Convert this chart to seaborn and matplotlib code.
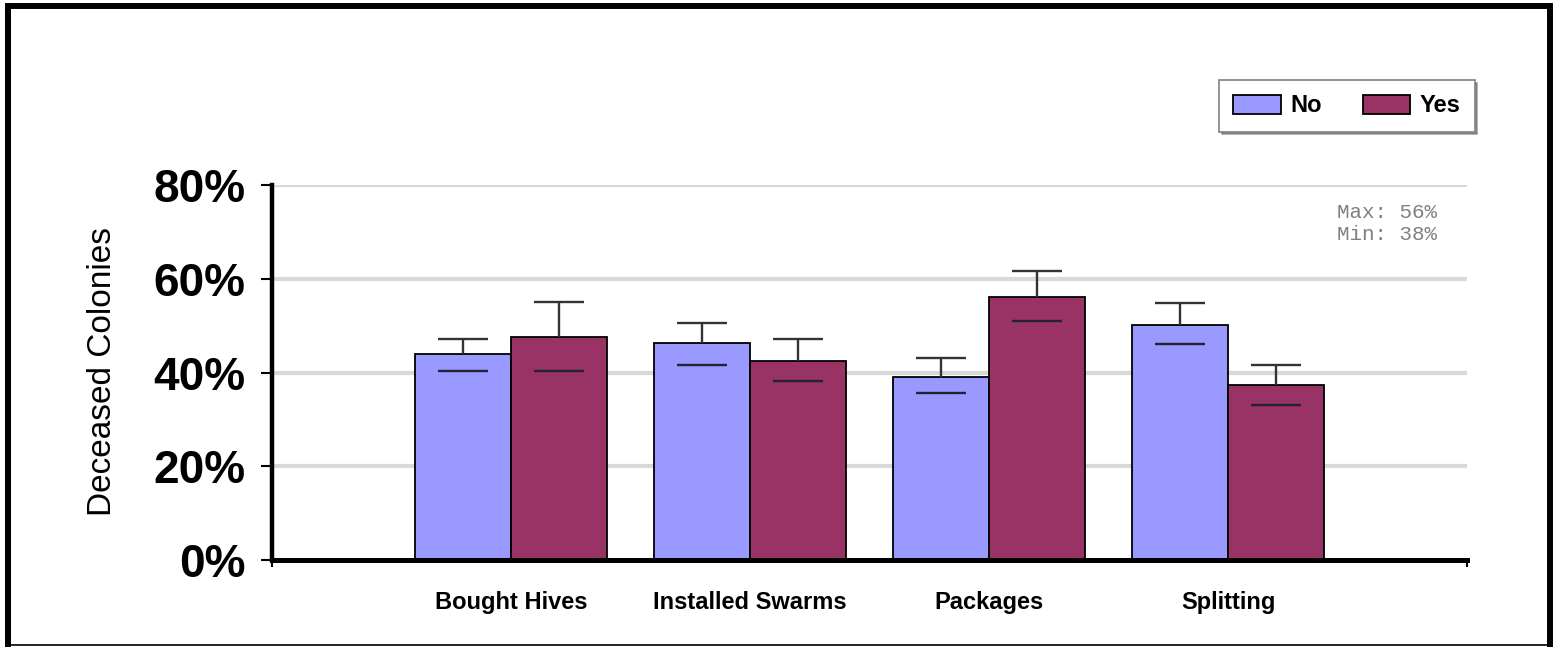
import matplotlib
matplotlib.use("Agg")
import matplotlib.pyplot as plt
import seaborn as sns
import pandas as pd
import numpy as np
from matplotlib.patches import Patch, Rectangle
from matplotlib.lines import Line2D

categories = ["Bought Hives", "Installed Swarms", "Packages", "Splitting"]
series = ["No", "Yes"]
no_vals = [43.9, 46.3, 39.0, 50.1]
yes_vals = [47.6, 42.5, 56.1, 37.3]
no_lo = [40.3, 41.6, 35.6, 46.1]
no_hi = [47.1, 50.6, 43.1, 54.8]
yes_lo = [40.3, 38.2, 51.0, 33.1]
yes_hi = [55.0, 47.1, 61.7, 41.6]
yticks = [0, 20, 40, 60, 80]
colors = {"No": "#9999FF", "Yes": "#993366"}

sns.set_theme(style="white")
plt.rcParams["font.family"] = ["Liberation Sans", "DejaVu Sans"]
plt.rcParams["text.color"] = "black"
plt.rcParams["axes.labelcolor"] = "black"
plt.rcParams["xtick.color"] = "black"
plt.rcParams["ytick.color"] = "black"

df = pd.DataFrame({
    "cat": categories * 2,
    "series": ["No"] * 4 + ["Yes"] * 4,
    "val": no_vals + yes_vals,
})

W, H = 1556, 647
fig = plt.figure(figsize=(W / 100, H / 100), dpi=100)
ax = fig.add_axes([272 / W, 1 - 560 / H, (1467 - 272) / W, (560 - 185) / H])

sns.barplot(data=df, x="cat", y="val", hue="series", order=categories,
            hue_order=series, palette=colors, width=0.8, edgecolor="black",
            linewidth=1.3, saturation=1, errorbar=None, legend=False, ax=ax,
            zorder=2)

# error bars
no_x = np.arange(4) - 0.2
yes_x = np.arange(4) + 0.2
cap = 0.105
ecol = "#333333"
for xs, vals, lo, hi in [(no_x, no_vals, no_lo, no_hi), (yes_x, yes_vals, yes_lo, yes_hi)]:
    ax.vlines(xs, vals, hi, color=ecol, lw=1.7, zorder=3)
    ax.hlines(hi, xs - cap, xs + cap, color=ecol, lw=1.7, zorder=3)
    ax.hlines(lo, xs - cap, xs + cap, color="#222233", lw=1.7, zorder=3)

ax.set_xlim(-1, 4)
ax.set_ylim(0, 80)
ax.set_yticks(yticks)
ax.set_yticklabels([f"{v}%" for v in yticks], fontsize=33, fontweight="bold")
ax.yaxis.grid(True, color="#D9D9D9", lw=3)
ax.set_axisbelow(True)
ax.tick_params(axis="y", left=True, length=8, width=1.5, color="black", pad=11)
ax.set_xticks(range(4))
ax.set_xticklabels(categories, fontsize=17, fontweight="bold")
ax.tick_params(axis="x", which="major", length=0, pad=22)
ax.set_xticks([-1, 4], minor=True)
ax.tick_params(axis="x", which="minor", bottom=True, length=5, width=1.5, color="black")
for s in ["top", "right"]:
    ax.spines[s].set_visible(False)
ax.spines["left"].set_linewidth(3.2)
ax.spines["bottom"].set_linewidth(3.6)
ax.spines["left"].set_color("black")
ax.spines["bottom"].set_color("black")
ax.set_xlabel("")
ax.set_ylabel("Deceased Colonies", fontsize=24, color="black")
ax.yaxis.set_label_coords(-0.129, 0.503)

handles = [Patch(facecolor=colors[s], edgecolor="black", lw=1.3, label=s) for s in series]
leg = fig.legend(handles=handles, ncol=2, loc="center", bbox_to_anchor=(1347 / W, 1 - 106 / H),
                 frameon=True, fancybox=False, shadow=True, edgecolor="#808080",
                 prop={"size": 17, "weight": "bold"}, handlelength=2.0, handleheight=0.9,
                 handletextpad=0.4, columnspacing=1.75, borderpad=0.6, borderaxespad=0)
leg.get_frame().set_linewidth(1.2)
for t in leg.get_texts():
    t.set_color("black")

fig.text(1437 / W, 1 - 203 / H, "Max: 56%\nMin: 38%", ha="right", va="top",
         family=["Liberation Mono", "DejaVu Sans Mono"], fontsize=15, color="#808080",
         linespacing=1.2)

# outer frame (thick on top/left/right, thin at bottom)
fig.add_artist(Rectangle((8 / W, -0.05), (1550 - 8) / W, 1.05 - 6 / H,
                         transform=fig.transFigure, fill=False, edgecolor="black",
                         lw=4.3, joinstyle="miter"))
fig.add_artist(Line2D([8 / W, 1550 / W], [1 - 645 / H, 1 - 645 / H],
                      transform=fig.transFigure, color="black", lw=1.2))

fig.savefig("out.png", dpi=100)
